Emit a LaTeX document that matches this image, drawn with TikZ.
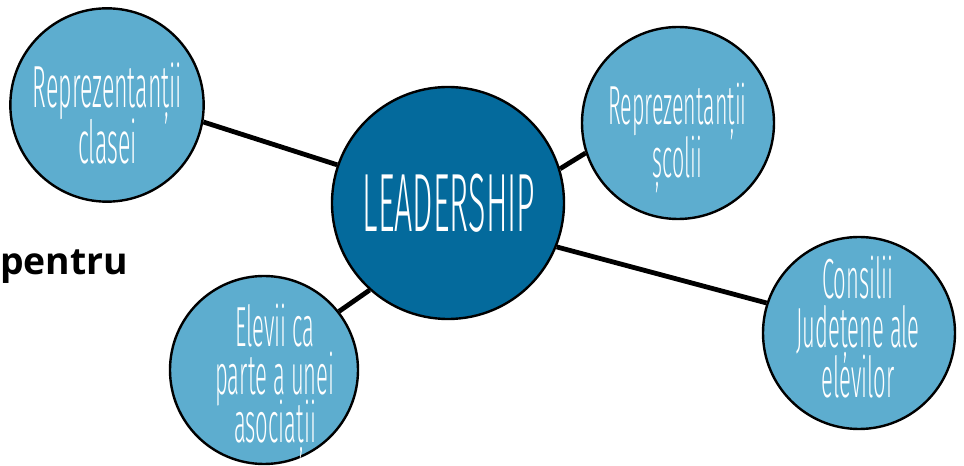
\documentclass[tikz,border=0pt]{standalone}
\usepackage{fontspec}
\usepackage{xcolor}
\newfontfamily\thinfont[FakeStretch=0.39]{Fira Sans Light}
\newfontfamily\boldfont{Open Sans}
\definecolor{bubbleblue}{RGB}{93,173,207}
\definecolor{leadblue}{RGB}{4,106,156}

\begin{document}
\begin{tikzpicture}[x=0.75pt,y=0.75pt,yscale=-1,xscale=1,
  bubble/.style={circle,draw=black,line width=1.8pt,fill=bubbleblue,inner sep=0pt},
  bubbletext/.style={text=white,inner sep=0pt,anchor=base},
  link/.style={line width=3.6pt,draw=black}]
\useasboundingbox (0,0) rectangle (964,466);

% Bubbles
\draw (448,203) node [bubble,fill=leadblue,minimum size=174pt] (lead) {};
\draw (107,105) node [bubble,minimum size=145pt] (clasa) {};
\draw (678,123) node [bubble,minimum size=144pt] (scoala) {};
\draw (264,370) node [bubble,minimum size=141pt] (asoc) {};
\draw (859,333) node [bubble,minimum size=144pt] (consiliu) {};

% Text Node
\draw (449,232) node [bubbletext,font={\thinfont\fontsize{62}{62}\selectfont}] (lead-l1) {LEADERSHIP};
% Text Node
\draw (107.5,108) node [bubbletext,font={\thinfont\fontsize{44.6}{44}\selectfont}] (clasa-l1) {Reprezentanții};
\draw (107.5,164) node [bubbletext,font={\thinfont\fontsize{44.6}{44}\selectfont}] (clasa-l2) {clasei};
% Text Node
\draw (677.5,125) node [bubbletext,font={\thinfont\fontsize{41.3}{41}\selectfont}] (scoala-l1) {Reprezentanții};
\draw (677.5,178) node [bubbletext,font={\thinfont\fontsize{41.3}{41}\selectfont}] (scoala-l2) {școlii};
% Text Node
\draw (275,347) node [bubbletext,font={\thinfont\fontsize{42.4}{42}\selectfont}] (asoc-l1) {Elevii ca};
\draw (275,395) node [bubbletext,font={\thinfont\fontsize{42.4}{42}\selectfont}] (asoc-l2) {parte a unei};
\draw (275,443) node [bubbletext,font={\thinfont\fontsize{42.4}{42}\selectfont}] (asoc-l3) {asociații};
% Text Node
\draw (858,299) node [bubbletext,font={\thinfont\fontsize{42.4}{42}\selectfont}] (consiliu-l1) {Consilii};
\draw (858,348) node [bubbletext,font={\thinfont\fontsize{42.4}{42}\selectfont}] (consiliu-l2) {Județene ale};
\draw (858,398) node [bubbletext,font={\thinfont\fontsize{42.4}{42}\selectfont}] (consiliu-l3) {elevilor};
% Text Node
\draw (0,275) node [anchor=base west][inner sep=0pt] (pentru) {\boldfont\bfseries\fontsize{28}{30}\selectfont pentru};

% Connection
\draw [link] (lead.161) -- (clasa.-10) ;
% Connection
\draw [link] (lead.17) -- (scoala.-162) ;
% Connection
\draw [link] (lead.-22) -- (consiliu.162) ;
% Connection
\draw [link] (lead.228) -- (asoc.38) ;

\end{tikzpicture}
\end{document}
